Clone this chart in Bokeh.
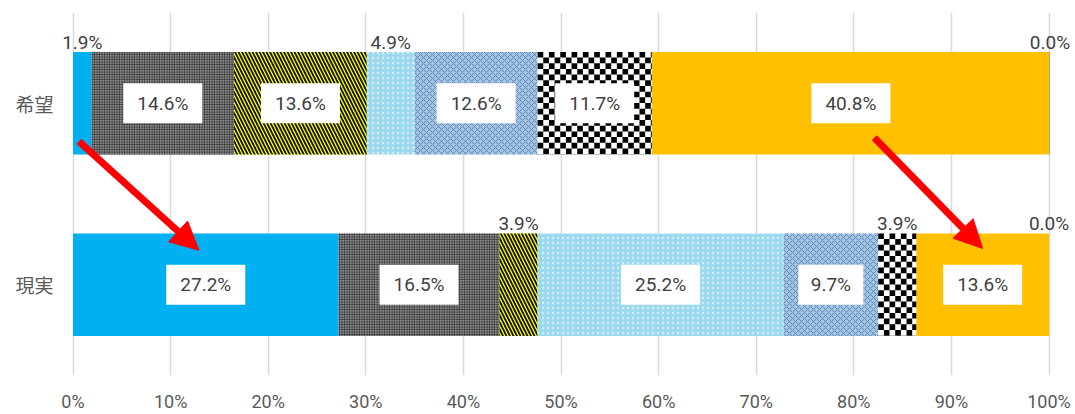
import math
from bokeh.plotting import figure
from bokeh.models import (ColumnDataSource, Arrow, NormalHead, FixedTicker, LabelSet)
from bokeh.core.properties import value
from bokeh.embed import file_html
from bokeh.resources import INLINE

# ---------------- data ----------------
categories = ["希望", "現実"]          # top, bottom
hope = [1.9, 14.6, 13.6, 4.9, 12.6, 11.7, 40.8, 0.0]
real = [27.2, 16.5, 3.9, 25.2, 9.7, 3.9, 13.6, 0.0]
x_ticks = [0, 10, 20, 30, 40, 50, 60, 70, 80, 90, 100]
# arrows (data units: x in %, y: 希望=1, 現実=0)
arrow_starts = [(0.6, 0.79), (82.1, 0.81)]
arrow_ends = [(12.9, 0.19), (93.2, 0.20)]

# ---------------- styles ----------------
fills = ["#00b0f0", "#8c8c8c", "#ffff00", "#9cd8ee", "#a3c4e4", "#ffffff", "#ffc000", "#a5a5a5"]
hatches = [
    None,
    dict(hatch_pattern="+", hatch_color="#2e2e2e", hatch_scale=2.5, hatch_weight=0.8),
    dict(hatch_pattern="\\", hatch_color="#111111", hatch_scale=7, hatch_weight=1.8),
    dict(hatch_pattern=".", hatch_color="#ffffff", hatch_scale=5, hatch_weight=1, hatch_alpha=0.55),
    dict(hatch_pattern="x", hatch_color="#6089b8", hatch_scale=6, hatch_weight=1),
    None,
    None,
    None,
]
CHECKER_SERIES = 5
CELL_X = 0.58    # % units (~5.7 px)
CELL_Y = 0.0313  # y units  (~5.7 px)

BAR_H = 0.566
NUM_FONT = "Roboto"
JP_FONT = "Noto Sans CJK JP"

p = figure(width=1075, height=414, output_backend="svg", toolbar_location=None,
           x_range=(-2, 102.2), y_range=(-0.5, 1.5),
           min_border_left=53, min_border_right=5, min_border_top=12, min_border_bottom=38)
p.outline_line_color = None
p.background_fill_color = "white"
p.border_fill_color = "white"

ypos = {categories[0]: 1.0, categories[1]: 0.0}
rows = [(categories[0], hope), (categories[1], real)]

box_x, box_y, box_w, box_txt = [], [], [], []
out_x, out_y, out_txt = [], [], []
ck_l, ck_r, ck_b, ck_t = [], [], [], []

for i in range(len(hope)):
    ys, lefts, rights = [], [], []
    for cat, vals in rows:
        left = sum(vals[:i])
        right = min(100.0, left + vals[i])
        y0 = ypos[cat]
        ys.append(y0)
        lefts.append(left)
        rights.append(right)
        txt = f"{vals[i]:.1f}%"
        cx = left + vals[i] / 2
        if vals[i] >= 5:
            box_x.append(cx); box_y.append(y0); box_txt.append(txt)
            box_w.append(14 * len(txt) + 9)
        else:
            out_x.append(cx); out_y.append(y0 + BAR_H / 2); out_txt.append(txt)
        if i == CHECKER_SERIES and vals[i] > 0:
            ncol = math.ceil(vals[i] / CELL_X)
            nrow = math.ceil(BAR_H / CELL_Y)
            top = y0 + BAR_H / 2
            for c in range(ncol):
                for r in range(nrow):
                    if (c + r) % 2 == 0:
                        ck_l.append(left + c * CELL_X)
                        ck_r.append(min(right, left + (c + 1) * CELL_X))
                        ck_t.append(top - r * CELL_Y)
                        ck_b.append(max(y0 - BAR_H / 2, top - (r + 1) * CELL_Y))
    src = ColumnDataSource(dict(y=ys, left=lefts, right=rights))
    kw = hatches[i] or {}
    p.hbar(y="y", left="left", right="right", height=BAR_H, source=src,
           fill_color=fills[i], line_color=None, **kw)

# checkerboard cells of the checker series
p.quad(left=ck_l, right=ck_r, bottom=ck_b, top=ck_t, fill_color="#000000", line_color=None)

# white label boxes
p.rect(x=box_x, y=box_y, width=box_w, height=[40] * len(box_x),
       width_units="screen", height_units="screen", fill_color="white", line_color=None)
p.text(x=box_x, y=box_y, text=box_txt, text_align="center", text_baseline="middle",
       text_font=value(NUM_FONT), text_font_size="19px", text_color="#404040")

out_src = ColumnDataSource(dict(x=out_x, y=out_y, text=out_txt))
p.add_layout(LabelSet(x="x", y="y", text="text", source=out_src, text_align="center",
                      text_baseline="alphabetic", y_offset=3, text_font=value(NUM_FONT),
                      text_font_size=value("19px"), text_color="#404040"))

for (xs, ys_), (xe, ye) in zip(arrow_starts, arrow_ends):
    p.add_layout(Arrow(x_start=xs, y_start=ys_, x_end=xe, y_end=ye,
                       line_color="#ff0000", line_width=7,
                       end=NormalHead(size=28, fill_color="#ff0000", line_color="#ff0000")))

# axes
p.xaxis.ticker = FixedTicker(ticks=x_ticks)
p.xaxis.major_label_overrides = {t: f"{t}%" for t in x_ticks}
p.xaxis.axis_line_color = None
p.xaxis.major_tick_line_color = None
p.xaxis.minor_tick_line_color = None
p.xaxis.major_tick_out = 0
p.xaxis.major_tick_in = 0
p.xaxis.minor_tick_out = 0
p.xaxis.major_label_standoff = 15
p.xaxis.major_label_text_font = NUM_FONT
p.xaxis.major_label_text_font_size = "18px"
p.xaxis.major_label_text_color = "#595959"

p.yaxis.ticker = FixedTicker(ticks=[ypos[c] for c in categories])
p.yaxis.major_label_overrides = {ypos[c]: c for c in categories}
p.yaxis.axis_line_color = None
p.yaxis.major_tick_line_color = None
p.yaxis.minor_tick_line_color = None
p.yaxis.major_tick_out = 0
p.yaxis.major_tick_in = 0
p.yaxis.minor_tick_out = 0
p.yaxis.major_label_standoff = 0
p.yaxis.major_label_text_font = JP_FONT
p.yaxis.major_label_text_font_size = "19px"
p.yaxis.major_label_text_color = "#595959"

p.xgrid.grid_line_color = "#d9d9d9"
p.xgrid.grid_line_width = 1.5
p.ygrid.grid_line_color = None

open("out.html", "w").write(file_html(p, INLINE))
